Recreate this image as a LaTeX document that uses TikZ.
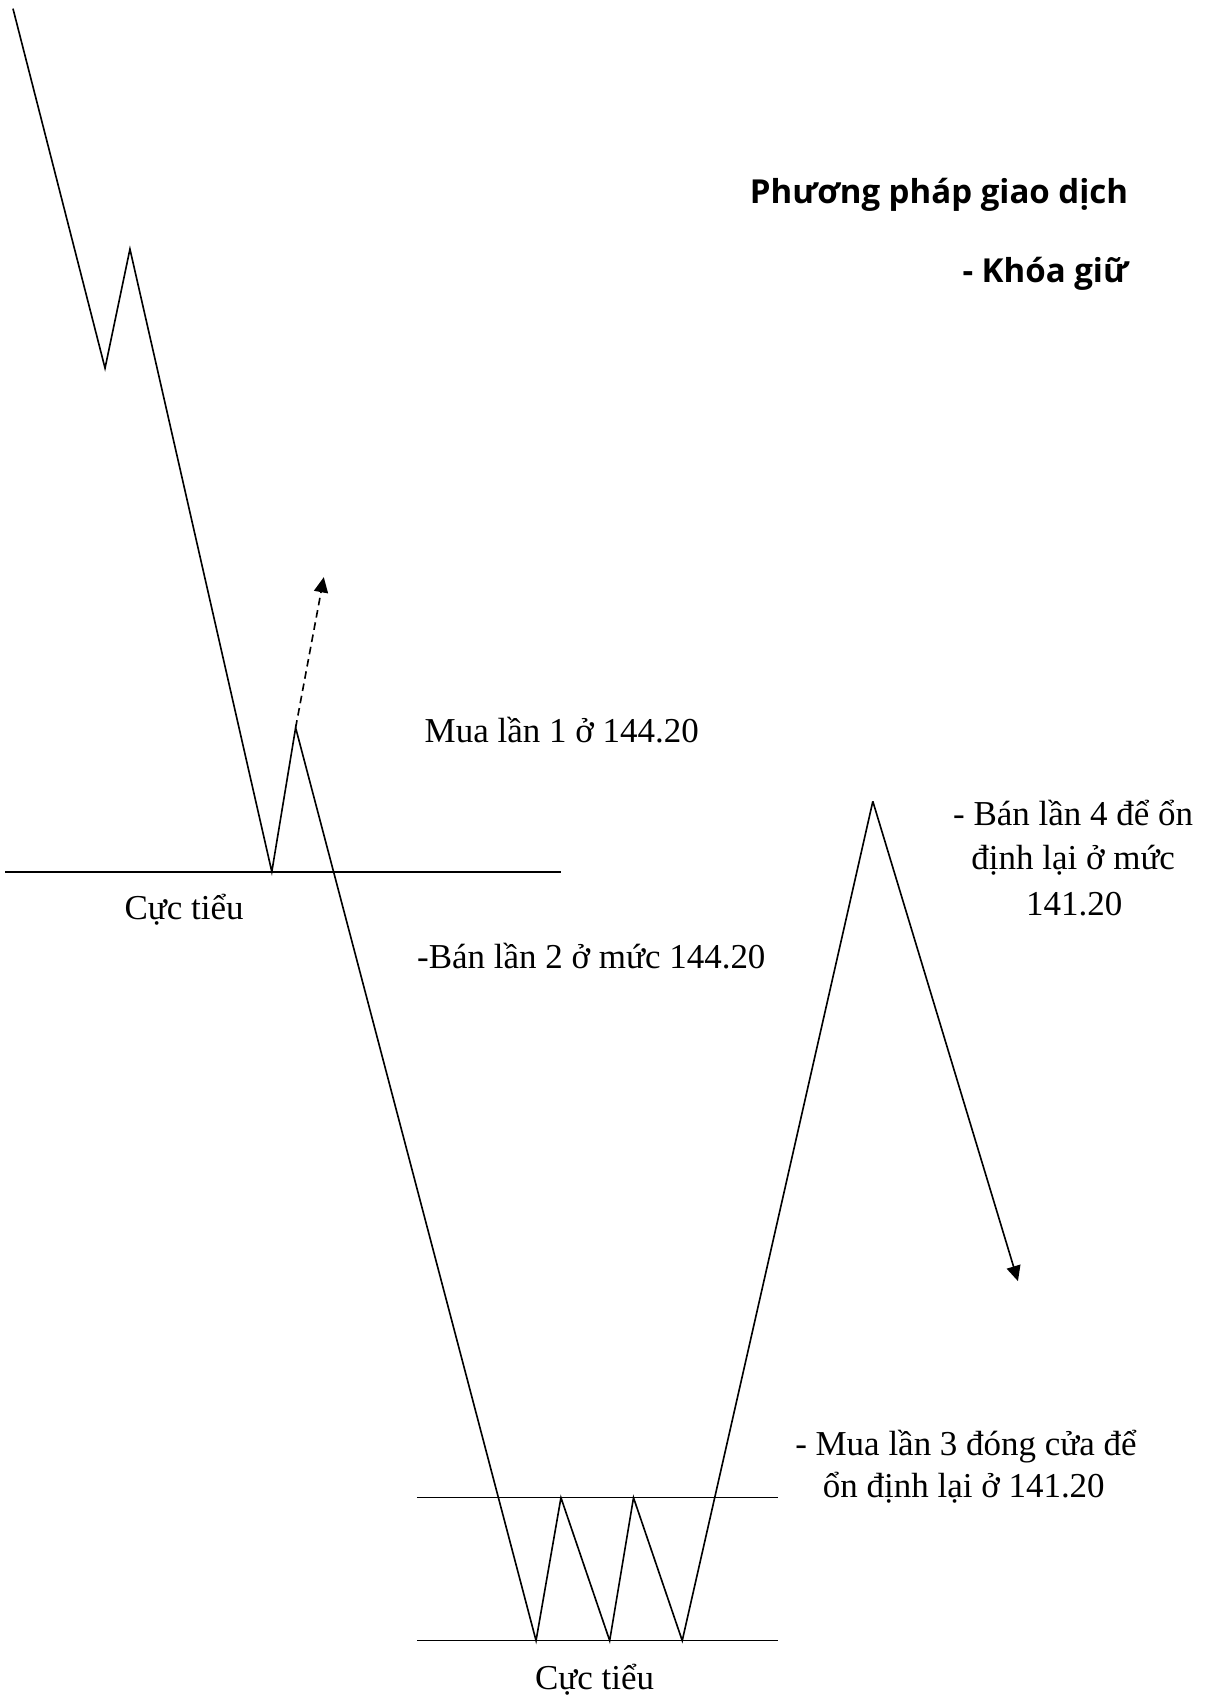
\documentclass[tikz,border=0pt]{standalone}
\usepackage{fontspec}
\setmainfont{Liberation Serif}
\newfontfamily\titlefont{Open Sans}
\usetikzlibrary{arrows.meta}
\begin{document}
\begin{tikzpicture}[x=1pt,y=-1pt,
  lbl/.style={inner sep=0pt, font=\fontsize{32.3}{40}\selectfont},
  ttl/.style={inner sep=0pt, font=\titlefont\bfseries\fontsize{30.5}{36}\selectfont},
  price/.style={line width=1.5pt, line join=miter},
  level/.style={line width=1.5pt},
  tip/.style={-{Triangle[length=14pt,width=13pt]}}]
\useasboundingbox (0,0) rectangle (1122,1568);
% price path points
\coordinate (p0) at (12,8);
\coordinate (v1) at (97,340);
\coordinate (k1) at (120,230);
\coordinate (m1) at (251,805);
\coordinate (k2) at (273,672);
\coordinate (b1) at (495,1515);
\coordinate (t1) at (518,1383);
\coordinate (b2) at (563,1515);
\coordinate (t2) at (585,1383);
\coordinate (b3) at (630,1515);
\coordinate (k3) at (806,740);
\coordinate (e4) at (940,1183);
\coordinate (e1) at (299,533);
% levels
\coordinate (l1a) at (5,805);
\coordinate (l1b) at (518,805);
\coordinate (l2a) at (385,1383);
\coordinate (l2b) at (718,1383);
\coordinate (l3a) at (385,1515);
\coordinate (l3b) at (718,1515);
\draw[level] (l1a) -- (l1b);
\draw[level] (l2a) -- (l2b);
\draw[level] (l3a) -- (l3b);
\draw[price] (p0) -- (v1) -- (k1) -- (m1) -- (k2) -- (b1) -- (t1) -- (b2) -- (t2) -- (b3) -- (k3);
\draw[price, tip] (k3) -- (e4);
\draw[price, tip, dash pattern=on 7pt off 4.5pt] (k2) -- (e1);
% texts
\node[ttl, anchor=base east] (title1) at (1042,188) {Phương pháp giao dịch};
\node[ttl, anchor=base east] (title2) at (1042,261) {- Khóa giữ};
\node[lbl, anchor=base west] (buy1) at (392,686) {Mua lần 1 ở 144.20};
\node[lbl, anchor=base] (min1) at (170,849) {Cực tiểu};
\node[lbl, anchor=base west] (sell2) at (385,894) {-Bán lần 2 ở mức 144.20};
\node[lbl, anchor=base] (sell4a) at (991,762) {- Bán lần 4 để ổn};
\node[lbl, anchor=base] (sell4b) at (991,803) {định lại ở mức};
\node[lbl, anchor=base] (sell4c) at (992,845) {141.20};
\node[lbl, anchor=base] (buy3a) at (892,1344) {- Mua lần 3 đóng cửa để};
\node[lbl, anchor=base] (buy3b) at (890,1383) {ổn định lại ở 141.20};
\node[lbl, anchor=base] (min2) at (549,1560) {Cực tiểu};
\end{tikzpicture}
\end{document}
